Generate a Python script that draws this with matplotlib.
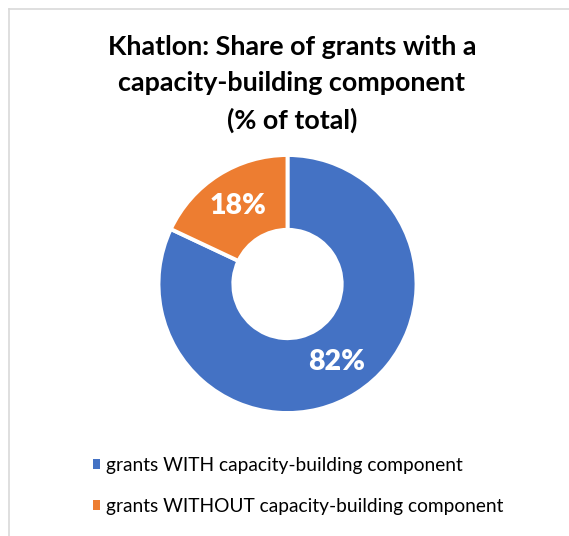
import matplotlib
matplotlib.use('Agg')
import matplotlib.pyplot as plt
from matplotlib.lines import Line2D

# share of grants, % of total
labels = ['grants WITH capacity-building component',
          'grants WITHOUT capacity-building component']
shares = [82, 18]
colors = ['#4472C4', '#ED7D31']
title = 'Khatlon: Share of grants with a\ncapacity-building component\n(% of total)'

plt.rcParams['font.family'] = ['Lato', 'DejaVu Sans']

W, H = 569, 536
fig = plt.figure(figsize=(W / 100, H / 100), dpi=100)

# thin frame along top and left edge
fig.add_artist(Line2D([9 / W, 1], [1 - 9 / H, 1 - 9 / H], color='#d9d9d9', lw=1.2))
fig.add_artist(Line2D([9 / W, 9 / W], [0, 1 - 9 / H], color='#d9d9d9', lw=1.2))

fig.text(292 / W, 1 - 84 / H, title, ha='center', va='center',
         fontsize=19.4, fontweight='bold', linespacing=1.62, color='black')

cx, cy, r = 287.5, 284, 129
ax = fig.add_axes([(cx - r) / W, (H - cy - r) / H, 2 * r / W, 2 * r / H])
wedges, _, autotexts = ax.pie(
    shares, colors=colors, startangle=90, counterclock=False, radius=1,
    autopct='%d%%', pctdistance=0.715,
    wedgeprops=dict(width=0.58, edgecolor='white', linewidth=2.8),
    textprops=dict(color='white', fontsize=20.5, fontweight='heavy'))
ax.set_xlim(-1, 1)
ax.set_ylim(-1, 1)
ax.set_aspect('equal')
ax.axis('off')

fig.legend(wedges, labels, loc='upper left',
           bbox_to_anchor=(85 / W, 1 - 449 / H), frameon=False,
           fontsize=13.8, handlelength=0.4, handleheight=0.4,
           handletextpad=0.3, labelspacing=1.25, borderaxespad=0)
for h in fig.legends[0].legend_handles:
    h.set_edgecolor('none')

fig.savefig('out.png', dpi=100, facecolor='white')
